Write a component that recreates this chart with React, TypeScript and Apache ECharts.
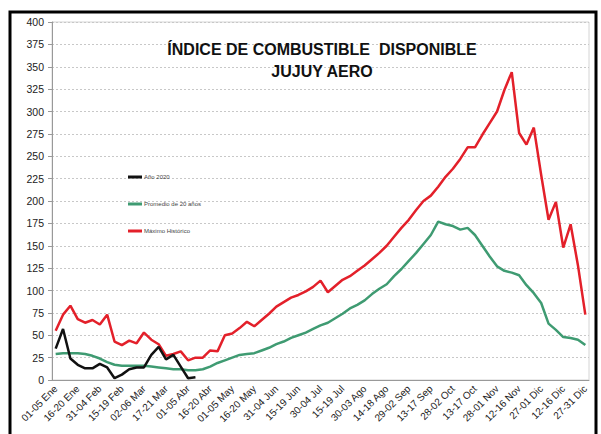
import React, { useEffect, useRef } from "react";
import * as echarts from "echarts";

const categories: string[] = [
  "01-05 Ene", "06-10 Ene", "11-15 Ene", "16-20 Ene", "21-25 Ene", "26-30 Ene",
  "31-04 Feb", "05-09 Feb", "10-14 Feb", "15-19 Feb", "20-24 Feb", "25-01 Mar",
  "02-06 Mar", "07-11 Mar", "12-16 Mar", "17-21 Mar", "22-26 Mar", "27-31 Mar",
  "01-05 Abr", "06-10 Abr", "11-15 Abr", "16-20 Abr", "21-25 Abr", "26-30 Abr",
  "01-05 May", "06-10 May", "11-15 May", "16-20 May", "21-25 May", "26-30 May",
  "31-04 Jun", "05-09 Jun", "10-14 Jun", "15-19 Jun", "20-24 Jun", "25-29 Jun",
  "30-04 Jul", "05-09 Jul", "10-14 Jul", "15-19 Jul", "20-24 Jul", "25-29 Jul",
  "30-03 Ago", "04-08 Ago", "09-13 Ago", "14-18 Ago", "19-23 Ago", "24-28 Ago",
  "29-02 Sep", "03-07 Sep", "08-12 Sep", "13-17 Sep", "18-22 Sep", "23-27 Sep",
  "28-02 Oct", "03-07 Oct", "08-12 Oct", "13-17 Oct", "18-22 Oct", "23-27 Oct",
  "28-01 Nov", "02-06 Nov", "07-11 Nov", "12-16 Nov", "17-21 Nov", "22-26 Nov",
  "27-01 Dic", "02-06 Dic", "07-11 Dic", "12-16 Dic", "17-21 Dic", "22-26 Dic",
  "27-31 Dic",
];

const anio2020: number[] = [
  35, 57, 24, 17, 13, 13, 18, 14, 2, 6, 12, 14, 14, 28, 37, 23, 28, 15, 2, 3,
];

const promedio20: number[] = [
  29, 30, 30, 30, 29, 27, 24, 20, 17, 16, 16, 16, 16, 15, 14, 13, 12, 12, 11, 11,
  12, 15, 19, 22, 25, 28, 29, 30, 33, 36, 40, 43, 47, 50, 53, 57, 61, 64, 69, 74,
  80, 84, 89, 96, 102, 107, 116, 124, 133, 142, 152, 162, 177, 174, 172, 168, 170, 162, 150, 138,
  127, 122, 120, 117, 106, 97, 86, 63, 56, 48, 47, 45, 39,
];

const maximoHistorico: number[] = [
  55, 73, 83, 68, 64, 67, 62, 73, 43, 39, 44, 41, 53, 45, 40, 27, 29, 32, 22, 25,
  25, 33, 32, 50, 52, 58, 65, 60, 67, 74, 82, 87, 92, 95, 99, 104, 111, 98, 105, 112,
  116, 122, 128, 135, 142, 150, 160, 170, 179, 190, 200, 206, 216, 227, 236, 247, 260, 260, 274, 287,
  300, 324, 344, 276, 263, 282, 229, 179, 199, 148, 174, 128, 73,
];

const seriesNames = ["Año 2020", "Promedio de 20 años", "Máximo Histórico"];
const titleLines = ["ÍNDICE DE COMBUSTIBLE  DISPONIBLE", "JUJUY AERO"];

export default function App() {
  const ref = useRef<HTMLDivElement>(null);
  useEffect(() => {
    document.body.style.margin = "0";
    const chart = echarts.init(ref.current!, null, { renderer: "svg" });
    const font = "'Liberation Sans', Arial, sans-serif";
    chart.setOption({
      animation: false,
      backgroundColor: "#ffffff",
      textStyle: { fontFamily: font },
      grid: {
        left: 52,
        right: 12,
        top: 22,
        bottom: 54,
        show: true,
        borderColor: "#d4d4d4",
        borderWidth: 1,
      },
      legend: {
        orient: "vertical",
        left: 128,
        top: 174,
        padding: 0,
        itemWidth: 14,
        itemHeight: 3,
        itemGap: 21,
        icon: "rect",
        data: seriesNames,
        textStyle: { fontSize: 6, color: "#444", fontFamily: font, padding: [0, 0, 0, -3] },
      },
      xAxis: {
        type: "category",
        data: categories,
        boundaryGap: true,
        axisLine: { lineStyle: { color: "#999", width: 1 } },
        axisTick: { interval: 0, length: 4, lineStyle: { color: "#999" } },
        axisLabel: {
          interval: 2,
          rotate: 45,
          fontSize: 10,
          color: "#222",
          margin: 7,
          fontFamily: font,
        },
        splitLine: { show: false },
      },
      yAxis: {
        type: "value",
        min: 0,
        max: 400,
        interval: 25,
        axisLine: { show: true, lineStyle: { color: "#999", width: 1 } },
        axisTick: { show: true, length: 4, lineStyle: { color: "#999" } },
        axisLabel: { fontSize: 10.5, color: "#222", margin: 8, fontFamily: font },
        splitLine: { lineStyle: { color: "#c8c8c8", type: [2, 2], width: 1 } },
      },
      series: [
        {
          name: seriesNames[1],
          type: "line",
          data: promedio20,
          showSymbol: false,
          symbol: "none",
          lineStyle: { color: "#3f9b72", width: 2.5 },
          itemStyle: { color: "#3f9b72" },
          z: 2,
        },
        {
          name: seriesNames[2],
          type: "line",
          data: maximoHistorico,
          showSymbol: false,
          symbol: "none",
          lineStyle: { color: "#e3202a", width: 2.5 },
          itemStyle: { color: "#e3202a" },
          z: 3,
        },
        {
          name: seriesNames[0],
          type: "line",
          data: anio2020,
          showSymbol: false,
          symbol: "none",
          lineStyle: { color: "#111111", width: 2.5 },
          itemStyle: { color: "#111111" },
          z: 4,
        },
      ],
      graphic: [
        {
          type: "rect",
          shape: { x: 10, y: 12, width: 586, height: 440 },
          style: { fill: "none", stroke: "#000", lineWidth: 3 },
          silent: true,
          z: 100,
        },
        {
          type: "text",
          x: 322,
          y: 49,
          style: {
            text: titleLines[0],
            fontSize: 16,
            fontWeight: "bold",
            fontFamily: font,
            fill: "#111",
            textAlign: "center",
            textVerticalAlign: "middle",
          },
          z: 100,
        },
        {
          type: "text",
          x: 322,
          y: 71,
          style: {
            text: titleLines[1],
            fontSize: 16,
            fontWeight: "bold",
            fontFamily: font,
            fill: "#111",
            textAlign: "center",
            textVerticalAlign: "middle",
          },
          z: 100,
        },
      ],
    });
    return () => chart.dispose();
  }, []);
  return (
    <div
      ref={ref}
      style={{ position: "fixed", left: 0, top: 0, width: 601, height: 434, background: "#fff" }}
    />
  );
}
